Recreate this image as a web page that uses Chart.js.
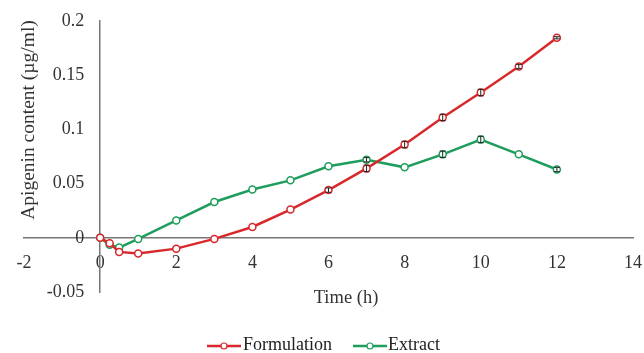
<!DOCTYPE html>
<html><head><meta charset="utf-8">
<script src="https://cdn.jsdelivr.net/npm/chart.js@4.4.1/dist/chart.umd.min.js"></script>
<style>html,body{margin:0;padding:0;background:#fff}#wrap{width:644px;height:353px}</style>
</head><body><div id="wrap"><canvas id="c"></canvas></div>
<script>
const times = [0, 0.25, 0.5, 1, 2, 3, 4, 5, 6, 7, 8, 9, 10, 11, 12];
const formulation = [0, -0.005, -0.013, -0.0145, -0.010, -0.001, 0.010, 0.026, 0.044, 0.064, 0.086, 0.111, 0.134, 0.158, 0.1845];
const formulationErr = [0, 0, 0, 0, 0, 0, 0, 0, 0.002, 0.003, 0.003, 0.003, 0.003, 0.002, 0.001];
const extract = [0, -0.0065, -0.009, -0.001, 0.016, 0.033, 0.0446, 0.053, 0.066, 0.072, 0.065, 0.077, 0.0907, 0.077, 0.063];
const extractErr = [0, 0, 0, 0, 0, 0, 0, 0, 0, 0.002, 0, 0.003, 0.003, 0, 0.002];
const xTicks = [-2, 0, 2, 4, 6, 8, 10, 12, 14];
const yTicks = [-0.05, 0, 0.05, 0.1, 0.15, 0.2];
const seriesNames = ['Formulation', 'Extract'];
const xTitle = 'Time (h)';
const yTitle = 'Apigenin content (µg/ml)';

const RED = '#d8282c', GREEN = '#1f9d5c';
const SERIF = '"Liberation Serif", "Times New Roman", serif';

const errorBars = {
  id: 'errorBars',
  afterDatasetsDraw(chart) {
    const ctx = chart.ctx, xs = chart.scales.x, ys = chart.scales.y;
    const errs = [formulationErr, extractErr];
    ctx.save();
    ctx.strokeStyle = '#222'; ctx.lineWidth = 1;
    chart.data.datasets.forEach((ds, i) => {
      ds.data.forEach((p, j) => {
        const e = errs[i][j]; if (!e) return;
        const px = xs.getPixelForValue(p.x);
        const y1 = ys.getPixelForValue(p.y - e), y2 = ys.getPixelForValue(p.y + e);
        ctx.beginPath();
        ctx.moveTo(px, y1); ctx.lineTo(px, y2);
        ctx.moveTo(px - 3, y1); ctx.lineTo(px + 3, y1);
        ctx.moveTo(px - 3, y2); ctx.lineTo(px + 3, y2);
        ctx.stroke();
      });
    });
    ctx.restore();
  }
};

const textPlugin = {
  id: 'textPlugin',
  afterDraw(chart) {
    const ctx = chart.ctx, xs = chart.scales.x, ys = chart.scales.y;
    ctx.save();
    ctx.fillStyle = '#333';
    // y tick labels, placed by the y scale
    ctx.font = '18px ' + SERIF;
    ctx.textAlign = 'right'; ctx.textBaseline = 'middle';
    const axisX = xs.getPixelForValue(0);
    ys.ticks.forEach(t => ctx.fillText(String(t.value), axisX - 16, ys.getPixelForValue(t.value)));
    // axis titles
    ctx.textAlign = 'center';
    ctx.font = '18.5px ' + SERIF;
    ctx.fillText(xTitle, 346, 298);
    ctx.save();
    ctx.translate(29, 120); ctx.rotate(-Math.PI / 2);
    ctx.font = '19.5px ' + SERIF;
    ctx.fillText(yTitle, 0, 0);
    ctx.restore();
    // legend
    const items = [[207, 243], [353, 388]];
    ctx.font = '18px ' + SERIF;
    ctx.textAlign = 'left';
    chart.data.datasets.forEach((ds, i) => {
      const [lx, tx] = items[i], y = 345;
      ctx.strokeStyle = ds.borderColor; ctx.lineWidth = 2.5;
      ctx.beginPath(); ctx.moveTo(lx, y + 1); ctx.lineTo(lx + 34, y + 1); ctx.stroke();
      ctx.fillStyle = '#fff'; ctx.lineWidth = 1.2;
      ctx.beginPath(); ctx.arc(lx + 17, y + 1, 3, 0, Math.PI * 2); ctx.fill(); ctx.stroke();
      ctx.fillStyle = '#222';
      ctx.fillText(ds.label, tx, y);
    });
    ctx.restore();
  }
};

new Chart(document.getElementById('c'), {
  type: 'line',
  data: {
    datasets: [
      { label: seriesNames[0], data: times.map((t, i) => ({x: t, y: formulation[i]})),
        borderColor: RED, backgroundColor: '#fff', borderWidth: 2.5,
        pointRadius: 3.5, pointBorderWidth: 1.5, pointBackgroundColor: '#fff', pointBorderColor: RED, tension: 0 },
      { label: seriesNames[1], data: times.map((t, i) => ({x: t, y: extract[i]})),
        borderColor: GREEN, backgroundColor: '#fff', borderWidth: 2.5,
        pointRadius: 3.5, pointBorderWidth: 1.5, pointBackgroundColor: '#fff', pointBorderColor: GREEN, tension: 0 }
    ]
  },
  options: {
    responsive: true, maintainAspectRatio: false, animation: false,
    layout: { padding: { left: 24, right: 11, top: 21, bottom: 61 } },
    plugins: { tooltip: { enabled: false }, legend: { display: false } },
    scales: {
      x: {
        type: 'linear', min: -2, max: 14, position: { y: 0 },
        afterFit(s) { s.height = 0; s.paddingLeft = 0; s.paddingRight = 0; s.paddingTop = 0; s.paddingBottom = 0; },
        afterBuildTicks(s) { s.ticks = xTicks.map(v => ({value: v})); },
        grid: { display: false, drawTicks: false },
        border: { display: true, color: '#777', width: 1.5 },
        ticks: { color: '#333', font: { family: SERIF, size: 18 }, padding: 15, maxRotation: 0 }
      },
      y: {
        type: 'linear', min: -0.05, max: 0.2, position: { x: 0 },
        afterFit(s) { s.width = 0; s.paddingLeft = 0; s.paddingRight = 0; s.paddingTop = 0; s.paddingBottom = 0; },
        afterBuildTicks(s) { s.ticks = yTicks.map(v => ({value: v})); },
        grid: { display: false, drawTicks: false },
        border: { display: true, color: '#777', width: 1.5 },
        ticks: { display: false }
      }
    }
  },
  plugins: [errorBars, textPlugin]
});
</script></body></html>
